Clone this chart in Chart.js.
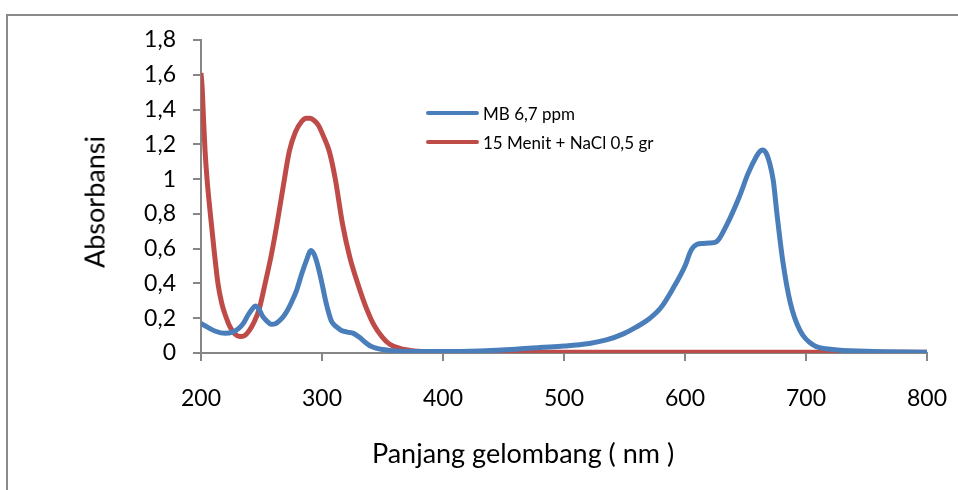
<!DOCTYPE html>
<html><head><meta charset="utf-8">
<script src="https://cdn.jsdelivr.net/npm/chart.js@4/dist/chart.umd.min.js"></script>
<style>
body{margin:0;background:#fff;}
#wrap{position:relative;width:958px;height:490px;overflow:hidden;font-family:Lato,sans-serif;}
#frame{position:absolute;left:6px;top:14px;width:1000px;height:600px;border-left:2px solid #8a8a8a;border-top:2px solid #8a8a8a;}
canvas{position:absolute;left:0;top:0;}
.t{position:absolute;color:#000;white-space:nowrap;transform:translate(-50%,-50%);}
.lg{position:absolute;height:4px;width:53px;border-radius:2px;}
.lt{position:absolute;color:#000;white-space:nowrap;font-size:17px;transform:translateY(-50%);}
</style></head><body>
<div id="wrap">
<div id="frame"></div>
<canvas id="c" width="958" height="490"></canvas>
<div class="t" style="left:94px;top:202px;font-size:27px;transform:translate(-50%,-50%) rotate(-90deg);">Absorbansi</div>
<div class="t" style="left:523px;top:452px;font-size:27px;">Panjang gelombang ( nm )</div>
<div class="lg" style="left:426px;top:111px;background:#4A7EBB;"></div>
<div class="lt" style="left:483px;top:113px;">MB 6,7 ppm</div>
<div class="lg" style="left:426px;top:140px;background:#BE4B48;"></div>
<div class="lt" style="left:483px;top:142px;">15 Menit + NaCl 0,5 gr</div>
</div>
<script>
const seriesNames = ["MB 6,7 ppm", "15 Menit + NaCl 0,5 gr"];
const blueNm  = [200,205,212,220,226,231,235,239,242,245,248,251,255,258,262,267,271,275,279,283,287,291,294,297,300,303,306,308,312,316,321,326,331,336,340,344,350,356,365,380,400,430,460,480,500,521,535,549,560,571,580,590,600,605,610,615,620,626,634,645,652,659,662,664,667,670,673,676,681,687,695,706,722,750,800];
const blueAbs = [0.17,0.15,0.125,0.113,0.12,0.14,0.17,0.22,0.25,0.27,0.25,0.21,0.18,0.165,0.17,0.20,0.24,0.295,0.36,0.45,0.53,0.59,0.56,0.49,0.40,0.30,0.22,0.18,0.15,0.13,0.12,0.113,0.09,0.06,0.04,0.03,0.02,0.015,0.01,0.008,0.008,0.012,0.022,0.032,0.04,0.055,0.075,0.11,0.15,0.20,0.26,0.37,0.50,0.59,0.625,0.63,0.632,0.64,0.73,0.90,1.03,1.13,1.16,1.167,1.15,1.09,0.99,0.80,0.52,0.29,0.13,0.046,0.02,0.01,0.005];
const redNm  = [200,201,202,203.3,205,208,211,214,217,220,224,228,232,236,240,244,248,253,258,263,268,273,278,283,287,290,293,297,301,306,311,317,323,330,336,343,350,356,365,380,400,500,600,700,800];
const redAbs = [1.61,1.52,1.36,1.17,1.00,0.78,0.58,0.40,0.29,0.22,0.15,0.11,0.095,0.10,0.13,0.18,0.25,0.40,0.56,0.75,0.96,1.16,1.27,1.33,1.35,1.35,1.34,1.31,1.25,1.16,1.00,0.74,0.55,0.39,0.27,0.16,0.09,0.05,0.025,0.01,0.005,0.005,0.005,0.005,0.005];
const xTicks = [200,300,400,500,600,700,800];
const yTicks = [0,0.2,0.4,0.6,0.8,1,1.2,1.4,1.6,1.8];

const toPts = (xs, ys) => xs.map((x, i) => ({x: x, y: ys[i]}));
const fmt = v => String(Math.round(v * 10) / 10).replace('.', ',');
const axisGray = '#868686';
const tickFont = {family: 'Lato, sans-serif', size: 23};

new Chart(document.getElementById('c'), {
  type: 'line',
  data: {
    datasets: [
      {label: seriesNames[0], data: toPts(blueNm, blueAbs), borderColor: '#4A7EBB', borderWidth: 5, pointRadius: 0, cubicInterpolationMode: 'monotone', fill: false},
      {label: seriesNames[1], data: toPts(redNm, redAbs), borderColor: '#BE4B48', borderWidth: 5, pointRadius: 0, cubicInterpolationMode: 'monotone', fill: false}
    ]
  },
  options: {
    responsive: false,
    animation: false,
    layout: {padding: {left: 0, right: 31, top: 40, bottom: 0}},
    plugins: {legend: {display: false}, tooltip: {enabled: false}},
    scales: {
      x: {
        type: 'linear', min: 200, max: 800,
        afterBuildTicks: s => { s.ticks = xTicks.map(v => ({value: v})); },
        afterFit: s => { s.height = 137; s.paddingLeft = 0; s.paddingRight = 0; },
        ticks: {color: '#000', font: tickFont, padding: 24, maxRotation: 0, callback: v => String(v)},
        grid: {drawOnChartArea: false, drawTicks: true, tickLength: 8, color: axisGray, lineWidth: 2},
        border: {display: true, color: axisGray, width: 2}
      },
      y: {
        type: 'linear', min: 0, max: 1.8,
        afterBuildTicks: s => { s.ticks = yTicks.map(v => ({value: v})); },
        afterFit: s => { s.width = 201; },
        ticks: {color: '#000', font: tickFont, padding: 17, callback: v => fmt(v)},
        grid: {drawOnChartArea: false, drawTicks: true, tickLength: 8, color: axisGray, lineWidth: 2},
        border: {display: true, color: axisGray, width: 2}
      }
    }
  }
});
</script>
</body></html>
